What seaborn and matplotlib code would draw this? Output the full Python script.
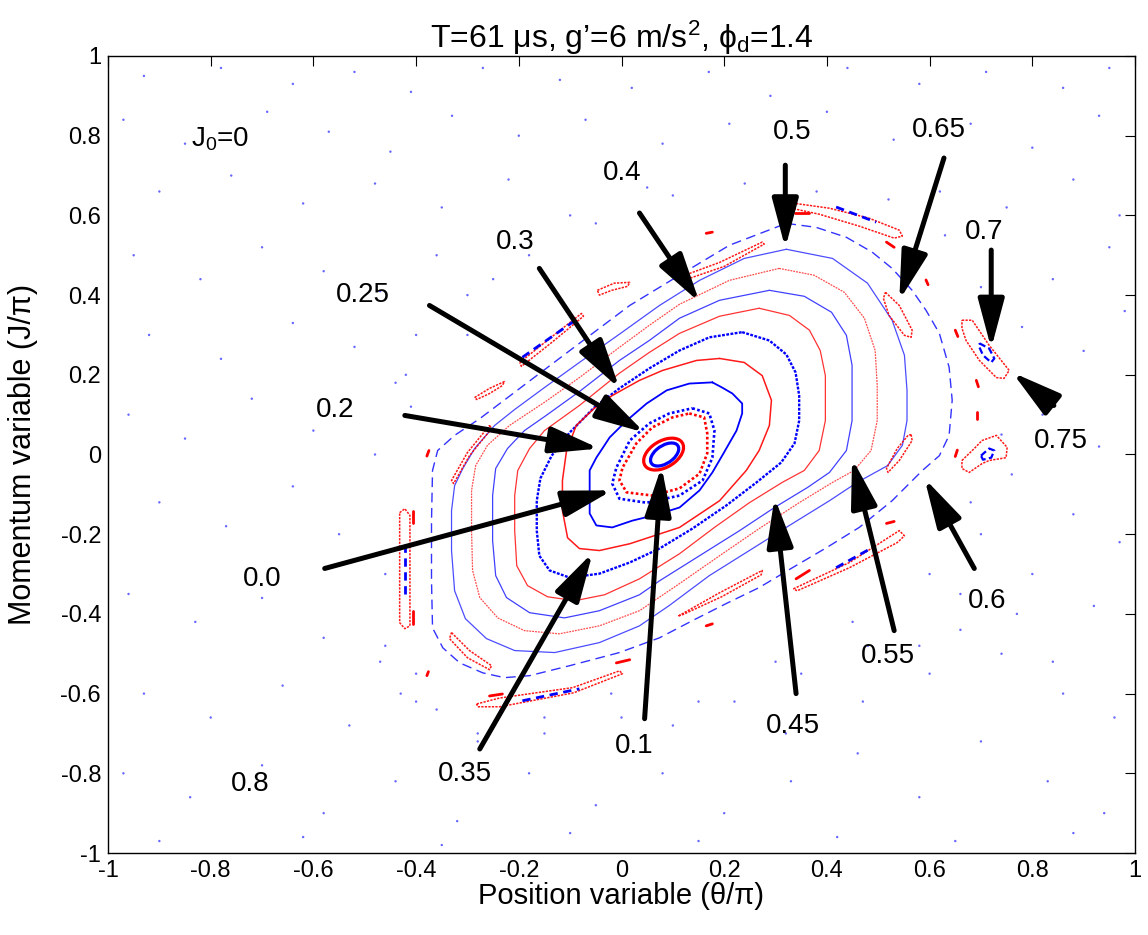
import numpy as np
import pandas as pd
import matplotlib
matplotlib.use("Agg")
import matplotlib.pyplot as plt
from matplotlib.patches import Ellipse
import seaborn as sns

# ---------------- data (theta/pi, J/pi) ----------------
# two innermost closed orbits: centre x, centre y, width, height, angle (deg)
b1_ell = (0.084, 0.000, 0.069, 0.040, 48)
r1_ell = (0.082, 0.001, 0.094, 0.060, 47)
# nested invariant curves, clockwise
r2_x = [0.132, 0.161, 0.167, 0.167, 0.152, 0.113, 0.060, 0.010, -0.004, 0.002, 0.029, 0.060, 0.099]
r2_y = [0.103, 0.093, 0.053, 0.003, -0.048, -0.085, -0.103, -0.095, -0.065, -0.033, 0.028, 0.068, 0.093]
b2_x = [0.138, 0.171, 0.181, 0.177, 0.158, 0.113, 0.049, -0.004, -0.018, -0.010, 0.016, 0.054, 0.093]
b2_y = [0.116, 0.103, 0.060, -0.008, -0.065, -0.103, -0.121, -0.111, -0.073, -0.033, 0.035, 0.078, 0.103]
b3_x = [0.177, 0.196, 0.216, 0.235, 0.235, 0.224, 0.196, 0.177, 0.152, 0.113, 0.068, 0.021,
        -0.018, -0.049, -0.062, -0.062, -0.062, -0.049, -0.023, 0.010, 0.049, 0.088, 0.132]
b3_y = [0.181, 0.168, 0.153, 0.128, 0.103, 0.060, -0.003, -0.045, -0.090, -0.133, -0.151, -0.166,
        -0.183, -0.178, -0.148, -0.090, -0.040, -0.008, 0.043, 0.085, 0.128, 0.161, 0.178]
rg_x = [0.191, 0.239, 0.274, 0.292, 0.288, 0.268, 0.243, 0.191, 0.113, 0.016, -0.043, -0.082,
        -0.105, -0.115, -0.115, -0.107, -0.088, -0.053, -0.018, 0.035, 0.080, 0.146]
rg_y = [0.241, 0.231, 0.198, 0.136, 0.073, 0.010, -0.040, -0.116, -0.183, -0.224, -0.241, -0.236,
        -0.209, -0.141, -0.065, 0.010, 0.073, 0.116, 0.148, 0.186, 0.211, 0.236]
bg_x = [0.235, 0.288, 0.321, 0.339, 0.346, 0.346, 0.337, 0.311, 0.263, 0.204, 0.138, 0.074, 0.016,
        -0.043, -0.101, -0.140, -0.160, -0.165, -0.165, -0.158, -0.136, -0.101, -0.053, -0.004,
        0.054, 0.113, 0.171]
bg_y = [0.307, 0.286, 0.251, 0.206, 0.148, 0.085, 0.028, -0.020, -0.070, -0.128, -0.186, -0.236,
        -0.271, -0.299, -0.309, -0.291, -0.254, -0.191, -0.116, -0.060, -0.003, 0.055, 0.118, 0.166,
        0.216, 0.261, 0.294]
rb_x = [0.268, 0.327, 0.366, 0.387, 0.397, 0.397, 0.385, 0.356, 0.313, 0.249, 0.181, 0.113, 0.035,
        -0.033, -0.091, -0.144, -0.183, -0.204, -0.208, -0.208, -0.202, -0.179, -0.150, -0.082,
        -0.004, 0.054, 0.113, 0.191]
rb_y = [0.367, 0.349, 0.312, 0.261, 0.198, 0.085, 0.010, -0.040, -0.070, -0.121, -0.183, -0.249,
        -0.312, -0.352, -0.367, -0.357, -0.329, -0.279, -0.191, -0.103, -0.040, 0.015, 0.060, 0.123,
        0.204, 0.256, 0.304, 0.347]
bb_x = [0.288, 0.356, 0.409, 0.438, 0.449, 0.449, 0.438, 0.405, 0.362, 0.298, 0.230, 0.152, 0.074,
        0.035, -0.043, -0.111, -0.179, -0.224, -0.245, -0.251, -0.251, -0.245, -0.222, -0.189,
        -0.150, -0.082, -0.004, 0.054, 0.113, 0.191]
bb_y = [0.412, 0.397, 0.357, 0.299, 0.224, 0.085, 0.010, -0.045, -0.083, -0.133, -0.191, -0.254,
        -0.317, -0.352, -0.392, -0.410, -0.397, -0.359, -0.304, -0.216, -0.103, -0.035, 0.015, 0.060,
        0.095, 0.158, 0.236, 0.286, 0.342, 0.387]
ra_x = [0.307, 0.375, 0.434, 0.473, 0.494, 0.498, 0.498, 0.486, 0.453, 0.411, 0.346, 0.268, 0.191,
        0.113, 0.035, -0.043, -0.121, -0.189, -0.241, -0.276, -0.290, -0.292, -0.292, -0.284,
        -0.261, -0.218, -0.150, -0.082, -0.004, 0.054, 0.113, 0.210]
ra_y = [0.467, 0.450, 0.407, 0.342, 0.261, 0.173, 0.085, 0.010, -0.040, -0.070, -0.121, -0.186,
        -0.254, -0.324, -0.392, -0.430, -0.450, -0.442, -0.410, -0.359, -0.291, -0.191, -0.090,
        -0.028, 0.023, 0.073, 0.131, 0.193, 0.269, 0.324, 0.377, 0.437]
ba_x = [0.321, 0.411, 0.479, 0.527, 0.551, 0.556, 0.556, 0.547, 0.518, 0.459, 0.405, 0.327, 0.249,
        0.171, 0.093, 0.035, -0.043, -0.130, -0.208, -0.263, -0.304, -0.325, -0.331, -0.331, -0.325,
        -0.309, -0.286, -0.247, -0.208, -0.150, -0.082, -0.004, 0.074, 0.152, 0.239]
ba_y = [0.515, 0.492, 0.430, 0.337, 0.249, 0.161, 0.085, 0.023, -0.028, -0.070, -0.116, -0.178,
        -0.241, -0.304, -0.379, -0.430, -0.472, -0.497, -0.492, -0.462, -0.412, -0.342, -0.241,
        -0.141, -0.078, -0.035, 0.015, 0.073, 0.113, 0.168, 0.231, 0.302, 0.374, 0.437, 0.492]
d_x = [0.321, 0.379, 0.438, 0.488, 0.527, 0.566, 0.593, 0.619, 0.638, 0.644, 0.638, 0.619, 0.586,
       0.527, 0.463, 0.399, 0.333, 0.268, 0.204, 0.138, 0.074, -0.004, -0.101, -0.179, -0.228,
       -0.270, -0.315, -0.348, -0.368, -0.370, -0.370, -0.368, -0.358, -0.325, -0.276, -0.198,
       -0.082, 0.016, 0.113, 0.210]
d_y = [0.580, 0.570, 0.545, 0.508, 0.467, 0.412, 0.362, 0.304, 0.219, 0.136, 0.048, -0.003, -0.040,
       -0.116, -0.183, -0.234, -0.284, -0.334, -0.374, -0.417, -0.460, -0.497, -0.530, -0.555,
       -0.560, -0.548, -0.523, -0.485, -0.435, -0.317, -0.166, -0.040, 0.010, 0.048, 0.090, 0.166,
       0.279, 0.374, 0.450, 0.525]

# islands (closed loops)
isl_red = {
    "top": ([0.333, 0.405, 0.482, 0.541, 0.547, 0.531, 0.463, 0.385, 0.338],
            [0.631, 0.618, 0.593, 0.563, 0.548, 0.543, 0.573, 0.603, 0.616]),
    "topleft": ([0.113, 0.191, 0.274, 0.278, 0.200, 0.121],
                [0.445, 0.482, 0.533, 0.528, 0.472, 0.437]),
    "i065": ([0.514, 0.541, 0.566, 0.564, 0.551, 0.521, 0.510],
             [0.407, 0.374, 0.312, 0.294, 0.299, 0.349, 0.392]),
    "right": ([0.564, 0.566, 0.541, 0.519, 0.516, 0.537, 0.558],
              [0.050, 0.035, -0.015, -0.045, -0.035, 0.015, 0.048]),
    "i07": ([0.663, 0.683, 0.716, 0.755, 0.745, 0.730, 0.697, 0.671, 0.663],
            [0.337, 0.337, 0.274, 0.211, 0.191, 0.193, 0.236, 0.286, 0.317]),
    "i075": ([0.663, 0.687, 0.702, 0.730, 0.751, 0.749, 0.716, 0.702, 0.677, 0.663],
             [-0.015, 0.015, 0.035, 0.048, 0.018, -0.008, -0.015, -0.023, -0.045, -0.035]),
    "leftv": ([-0.432, -0.422, -0.412, -0.412, -0.422, -0.432],
              [-0.146, -0.136, -0.153, -0.430, -0.437, -0.422]),
    "ulcorner": ([-0.257, -0.253, -0.296, -0.327, -0.331, -0.300],
                 [0.073, 0.065, -0.003, -0.073, -0.065, 0.005]),
    "llcorner": ([-0.331, -0.296, -0.253, -0.257, -0.300, -0.335],
                 [-0.447, -0.492, -0.530, -0.540, -0.510, -0.462]),
    "bottom": ([-0.282, -0.237, -0.095, -0.004, 0.002, -0.093, -0.237, -0.280],
               [-0.626, -0.611, -0.585, -0.543, -0.550, -0.598, -0.633, -0.633]),
    "lr1": ([0.111, 0.191, 0.274, 0.272, 0.195, 0.119],
            [-0.405, -0.347, -0.291, -0.302, -0.357, -0.402]),
    "lr2": ([0.335, 0.444, 0.541, 0.551, 0.537, 0.444, 0.342],
            [-0.337, -0.271, -0.191, -0.204, -0.221, -0.284, -0.342]),
    "ul1": ([-0.286, -0.257, -0.228, -0.232, -0.257, -0.282],
            [0.143, 0.166, 0.183, 0.173, 0.153, 0.138]),
    "ul2": ([-0.198, -0.140, -0.078, -0.074, -0.136, -0.195],
            [0.231, 0.291, 0.354, 0.347, 0.281, 0.221]),
    "ul3": ([-0.047, -0.014, 0.016, 0.012, -0.019, -0.043],
            [0.412, 0.430, 0.432, 0.422, 0.412, 0.400]),
}
isl_blue = {
    "i07": ([0.697, 0.716, 0.726, 0.720, 0.704, 0.697],
            [0.279, 0.266, 0.241, 0.231, 0.249, 0.269]),
    "i075": ([0.700, 0.716, 0.726, 0.720, 0.704],
             [-0.003, 0.015, 0.010, -0.008, -0.013]),
}
blue_seg = [((0.418, 0.496), (0.621, 0.583)), ((-0.422, -0.422), (-0.224, -0.349)),
            ((-0.193, -0.082), (-0.618, -0.588)), ((0.418, 0.488), (-0.284, -0.234)),
            ((-0.193, -0.082), (0.244, 0.344))]
red_seg = [((0.337, 0.366), (0.606, 0.606)), ((0.516, 0.531), (0.533, 0.520)),
           ((0.165, 0.177), (0.555, 0.558)), ((0.593, 0.597), (0.438, 0.426)),
           ((0.650, 0.655), (0.312, 0.296)), ((0.691, 0.695), (0.186, 0.170)),
           ((0.693, 0.693), (0.106, 0.090)), ((0.654, 0.650), (0.011, -0.005)),
           ((-0.407, -0.407), (-0.141, -0.173)), ((-0.407, -0.407), (-0.392, -0.425)),
           ((-0.375, -0.379), (0.010, -0.004)), ((-0.376, -0.379), (-0.545, -0.555)),
           ((-0.257, -0.232), (-0.606, -0.601)), ((-0.010, 0.016), (-0.523, -0.515)),
           ((0.165, 0.177), (-0.430, -0.425)), ((0.340, 0.366), (-0.312, -0.291)),
           ((0.516, 0.531), (-0.173, -0.168))]

# chaotic-sea points
sea_x = [-0.93, -0.78, -0.64, -0.52, -0.41, -0.27, -0.12, 0.02, 0.17, 0.29, 0.44, 0.58, 0.71, 0.86, 0.95,
         -0.97, -0.85, -0.69, -0.57, -0.45, -0.33, -0.20, -0.07, 0.08, 0.21, 0.40, 0.53, 0.68, 0.80, 0.93,
         -0.90, -0.76, -0.62, -0.48, -0.35, -0.22, -0.10, 0.05, 0.62, 0.75, 0.88, 0.97,
         -0.95, -0.82, -0.70, -0.58, -0.47, -0.36, -0.25, -0.92, -0.78, -0.64, -0.52, -0.42, -0.30,
         -0.96, -0.85, -0.72, -0.60, -0.48, -0.41, -0.90, -0.77, -0.64, -0.55, -0.46,
         -0.96, -0.83, -0.70, -0.58, -0.47,
         0.72, 0.84, 0.95, 0.78, 0.90, 0.98, 0.82, 0.93, 0.76, 0.88, 0.97, 0.70, 0.80, 0.92, 0.66,
         -0.93, -0.80, -0.66, -0.53, -0.40, -0.28, -0.15, -0.02, 0.10, 0.22, 0.35, 0.48, 0.60, 0.74, 0.86, 0.96,
         -0.97, -0.84, -0.70, -0.58, -0.44, -0.32, -0.18, -0.05, 0.08, 0.20, 0.33, 0.46, 0.58, 0.70, 0.83, 0.94,
         -0.90, -0.62, -0.35, -0.10, 0.15, 0.42, 0.65, 0.88,
         -0.44, -0.40, -0.46, -0.43, -0.30, -0.18, -0.05, 0.10, 0.24, 0.38, 0.52, 0.63, 0.70, 0.74, 0.68,
         0.60, 0.45, 0.30, 0.15, 0.00, -0.15, -0.28, -0.36, -0.40, 0.32, 0.47, 0.58, 0.66, 0.77, 0.84]
sea_y = [0.95, 0.97, 0.93, 0.96, 0.91, 0.97, 0.94, 0.92, 0.96, 0.90, 0.97, 0.93, 0.96, 0.92, 0.97,
         0.84, 0.78, 0.86, 0.81, 0.76, 0.85, 0.80, 0.84, 0.78, 0.83, 0.86, 0.79, 0.83, 0.77, 0.85,
         0.66, 0.70, 0.63, 0.68, 0.62, 0.69, 0.60, 0.67, 0.66, 0.62, 0.69, 0.60,
         0.50, 0.44, 0.52, 0.46, 0.41, 0.50, 0.44, 0.30, 0.24, 0.33, 0.27, 0.20, 0.30,
         0.10, 0.04, 0.14, 0.06, 0.00, 0.12, -0.12, -0.18, -0.08, -0.20, -0.30,
         -0.35, -0.42, -0.36, -0.46, -0.52,
         0.50, 0.44, 0.52, 0.32, 0.26, 0.36, 0.10, 0.02, -0.05, -0.15, -0.22, -0.20, -0.30, -0.38, -0.35,
         -0.60, -0.66, -0.58, -0.68, -0.62, -0.70, -0.66, -0.60, -0.68, -0.62, -0.55, -0.48, -0.55, -0.50, -0.60, -0.66,
         -0.80, -0.86, -0.78, -0.90, -0.82, -0.92, -0.80, -0.88, -0.80, -0.90, -0.82, -0.75, -0.86, -0.72, -0.82, -0.90,
         -0.97, -0.96, -0.98, -0.95, -0.97, -0.96, -0.97, -0.95,
         0.18, 0.30, -0.48, -0.60, 0.40, 0.50, 0.58, 0.65, 0.68, 0.66, 0.64, 0.55, 0.42, 0.05, -0.12,
         -0.30, -0.42, -0.52, -0.62, -0.66, -0.70, -0.72, -0.64, -0.55, -0.70, -0.62, -0.48, -0.44, -0.40, -0.52]

# labels: text, text position, arrow tail, arrow tip (None = no arrow)
labels = ["0.5", "0.65", "0.4", "0.7", "0.3", "0.25", "0.2", "0.0", "0.1", "0.35", "0.45", "0.55", "0.6", "0.75", "0.8"]
label_xy = [(0.333, 0.810), (0.619, 0.814), (0.002, 0.706), (0.706, 0.558), (-0.208, 0.533),
            (-0.504, 0.399), (-0.558, 0.111), (-0.700, -0.312), (0.025, -0.731), (-0.305, -0.802),
            (0.333, -0.681), (0.518, -0.505), (0.712, -0.367), (0.856, 0.035), (-0.724, -0.827)]
arrow_tail = [(0.319, 0.726), (0.628, 0.744), (0.035, 0.606), (0.720, 0.513), (-0.160, 0.467),
              (-0.374, 0.374), (-0.422, 0.098), (-0.578, -0.286), (0.045, -0.663), (-0.276, -0.739),
              (0.340, -0.600), (0.531, -0.442), (0.687, -0.286), (0.842, 0.123), None]
arrow_tip = [(0.319, 0.518), (0.541, 0.387), (0.152, 0.382), (0.720, 0.266), (-0.004, 0.166),
             (0.045, 0.055), (-0.043, 0.015), (-0.018, -0.090), (0.078, -0.030), (-0.056, -0.246),
             (0.298, -0.108), (0.449, -0.010), (0.590, -0.060), (0.761, 0.206), None]

ticks = [-1, -0.8, -0.6, -0.4, -0.2, 0, 0.2, 0.4, 0.6, 0.8, 1]
tick_labels = ["-1", "-0.8", "-0.6", "-0.4", "-0.2", "0", "0.2", "0.4", "0.6", "0.8", "1"]

# ---------------- styling ----------------
sns.set_theme(style="white")
plt.rcParams["font.family"] = ["Liberation Sans", "DejaVu Sans"]
plt.rcParams["mathtext.fontset"] = "custom"
plt.rcParams["mathtext.rm"] = "Liberation Sans"
plt.rcParams["mathtext.it"] = "Liberation Sans"
plt.rcParams["mathtext.bf"] = "Liberation Sans:bold"
plt.rcParams["axes.unicode_minus"] = False

fig = plt.figure(figsize=(11.48, 9.35), dpi=100)
ax = fig.add_axes([108 / 1148, 82 / 935, 1027 / 1148, 797 / 935])

BLUE = "#0000ff"
RED = "#ff0000"


def curve(xs, ys, color, lw, ls="-", alpha=1.0, close=True):
    xs, ys = list(xs), list(ys)
    if close:
        xs, ys = xs + [xs[0]], ys + [ys[0]]
    df = pd.DataFrame({"x": xs, "y": ys})
    sns.lineplot(data=df, x="x", y="y", sort=False, estimator=None, color=color,
                 lw=lw, linestyle=ls, alpha=alpha, ax=ax)


# sea
sns.scatterplot(x=sea_x, y=sea_y, s=3, color=BLUE, alpha=0.6, edgecolor="none", ax=ax)

# nested invariant curves
curve(d_x, d_y, BLUE, 1.0, (0, (7, 4)), 0.8)
curve(ba_x, ba_y, BLUE, 0.9, "-", 0.7)
curve(ra_x, ra_y, RED, 0.9, (0, (1.5, 0.8)), 0.7)
curve(bb_x, bb_y, BLUE, 0.9, "-", 0.75)
curve(rb_x, rb_y, RED, 0.9, "-", 0.8)
curve(bg_x, bg_y, BLUE, 1.7, (0, (1.2, 0.6)), 1.0)
curve(rg_x, rg_y, RED, 1.1, "-", 0.9)
curve(b3_x, b3_y, BLUE, 1.3, "-", 1.0)
curve(b2_x, b2_y, BLUE, 1.9, (0, (1.0, 0.9)), 1.0)
curve(r2_x, r2_y, RED, 1.9, (0, (1.0, 0.9)), 1.0)
for (cx, cy, w, h, ang), col in ((r1_ell, RED), (b1_ell, BLUE)):
    ax.add_patch(Ellipse((cx, cy), w, h, angle=ang, fill=False, edgecolor=col, lw=2.3))

# islands
for xs, ys in isl_red.values():
    curve(xs, ys, RED, 1.1, (0, (1.5, 0.8)), 0.9)
for xs, ys in isl_blue.values():
    curve(xs, ys, BLUE, 1.6, (0, (3, 1.5)), 1.0)
for xs, ys in blue_seg:
    curve(xs, ys, BLUE, 2.0, (0, (3, 2)), 1.0, close=False)
for xs, ys in red_seg:
    curve(xs, ys, RED, 2.0, "-", 1.0, close=False)

# arrows + labels
for txt, pos, tail, tip in zip(labels, label_xy, arrow_tail, arrow_tip):
    ax.text(pos[0], pos[1], txt, ha="center", va="center", fontsize=20, color="black")
    if tail is not None:
        ax.annotate("", xy=tip, xytext=tail,
                    arrowprops=dict(arrowstyle="-|>,head_length=1.5,head_width=0.4",
                                    mutation_scale=20, lw=3.6, color="black",
                                    shrinkA=0, shrinkB=0))
ax.text(-0.838, 0.79, r"$\mathrm{J}_{0}$=0", ha="left", va="center", fontsize=20, color="black")

ax.set_xlim(-1, 1)
ax.set_ylim(-1, 1)
ax.set_xticks(ticks)
ax.set_yticks(ticks)
ax.set_xticklabels(tick_labels)
ax.set_yticklabels(tick_labels)
ax.tick_params(direction="in", length=7, width=0.8, top=True, right=True,
               labelsize=17, colors="black", pad=5)
for sp in ax.spines.values():
    sp.set_color("black")
    sp.set_linewidth(1.0)
ax.set_xlabel("Position variable (θ/π)", fontsize=21, color="black")
ax.set_ylabel("Momentum variable (J/π)", fontsize=22, color="black")
ax.xaxis.set_label_coords(0.5, -0.036)
ax.yaxis.set_label_coords(-0.068, 0.5)
ax.set_title(r"T=61 $\mu$s, g’=6 m/s$^{2}$, $\phi_{d}$=1.4", fontsize=23, pad=6, color="black")

fig.savefig("out.png", dpi=100)
